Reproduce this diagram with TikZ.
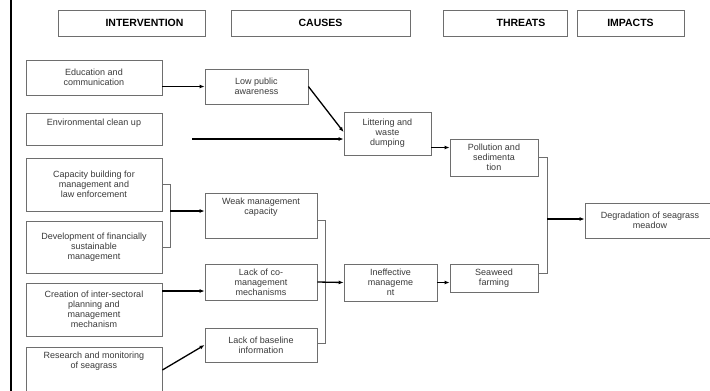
\documentclass[tikz,border=0pt]{standalone}
\usepackage{fontspec}
\setmainfont{Liberation Sans}
\usepackage{tikz}
\usetikzlibrary{arrows.meta, positioning}

\begin{document}
\begin{tikzpicture}[x=1pt, y=-1pt,
    font=\fontsize{9}{10}\selectfont,
    headbox/.style={draw=boxgray, line width=0.8pt, font=\fontsize{10.5}{12}\selectfont\bfseries, inner sep=0pt},
    itembox/.style={draw=boxgray, line width=0.8pt, align=center, text=textgray, inner sep=2pt},
    arr/.style={-{Latex[length=5pt,width=4pt]}, line width=1.3pt},
    brace/.style={draw=boxgray, line width=0.8pt}]
  \definecolor{boxgray}{HTML}{6E6E6E}
  \definecolor{textgray}{HTML}{3A3A3A}

  \useasboundingbox (0,0) rectangle (710,391);
  \fill[white] (0,0) rectangle (710,391);
  \draw[line width=2pt] (11,0) -- (11,391);

  % column headings
  \node[headbox, minimum width=147pt, minimum height=26pt] (hInt) at (131.5,23) {\hspace*{26pt}INTERVENTION};
  \node[headbox, minimum width=179pt, minimum height=26pt] (hCau) at (320.5,23) {CAUSES};
  \node[headbox, minimum width=124pt, minimum height=26pt] (hThr) at (505,23) {\hspace*{32pt}THREATS};
  \node[headbox, minimum width=107pt, minimum height=26pt] (hImp) at (630.5,23) {IMPACTS};

  % interventions
  \node[itembox, minimum width=136pt, minimum height=35pt] (educ) at (94,77.5) {Education and\\ communication};
  \node[itembox, minimum width=136pt, minimum height=32pt, text depth=14pt] (clean) at (94,129) {Environmental clean up};
  \node[itembox, minimum width=136pt, minimum height=53pt] (capac) at (94,184.5) {Capacity building for\\ management and\\ law enforcement};
  \node[itembox, minimum width=136pt, minimum height=52pt] (devel) at (94,247) {Development of financially\\ sustainable\\ management};
  \node[itembox, minimum width=136pt, minimum height=53pt] (creat) at (94,309.5) {Creation of inter-sectoral\\ planning and\\ management\\ mechanism};
  \node[itembox, minimum width=136pt, minimum height=46pt] (resea) at (94,370) {Research and monitoring\\ of seagrass\\[10pt]};

  % causes
  \node[itembox, minimum width=103pt, minimum height=35pt] (lowpub) at (256.5,86.5) {Low public\\ awareness};
  \node[itembox, minimum width=112pt, minimum height=45pt] (weak) at (261,215.5) {Weak management\\ capacity\\[8pt]};
  \node[itembox, minimum width=112pt, minimum height=36pt] (lackco) at (261,282) {Lack of co-\\ management\\ mechanisms};
  \node[itembox, minimum width=112pt, minimum height=34pt] (lackbase) at (261,345) {Lack of baseline\\ information};
  \node[itembox, minimum width=87pt, minimum height=43pt] (litter) at (387.5,133.5) {Littering and\\ waste\\ dumping};
  \node[itembox, minimum width=93pt, minimum height=37pt] (ineff) at (390.5,282.5) {Ineffective\\ manageme\\ nt};

  % threats and impact
  \node[itembox, minimum width=88pt, minimum height=37pt] (pollu) at (494,157.5) {Pollution and\\ sedimenta\\ tion};
  \node[itembox, minimum width=88pt, minimum height=28pt] (seaweed) at (494,278) {Seaweed\\ farming};
  \node[itembox, minimum width=130pt, minimum height=35pt] (degrad) at (650,220.5) {Degradation of seagrass\\ meadow};

  % junction points
  \coordinate (cleanEnd) at (192,139);
  \coordinate (jn1) at (170,211);
  \coordinate (jn3) at (547,219);

  % links
  \draw[arr] (educ.east |- lowpub.west) -- (lowpub.west);
  \draw[arr] (lowpub.east) -- ([yshift=1.5pt]litter.west);
  \draw[arr] (cleanEnd) -- (cleanEnd -| litter.west);
  \draw[arr] ([yshift=-14pt]litter.east) -- ([yshift=-14pt]litter.east -| pollu.west);

  \draw[brace] (capac.east) -- ++(8,0) |- (devel.east);
  \draw[arr] (jn1) -- (jn1 -| weak.west);

  \draw[arr] (creat.east |- 0,291) -- (lackco.west |- 0,291);
  \draw[arr] (resea.east) -- (lackbase.west);

  \draw[brace] ([yshift=-4.5pt]weak.east) -- ++(8,0) |- ([yshift=2pt]lackbase.east);
  \draw[arr] (lackco.east) -- (ineff.west);
  \draw[arr] (ineff.east) -- (ineff.east -| seaweed.west);

  \draw[brace] (pollu.east) -- ++(9,0) |- ([yshift=5pt]seaweed.east);
  \draw[arr] (jn3) -- (jn3 -| degrad.west);
\end{tikzpicture}
\end{document}
